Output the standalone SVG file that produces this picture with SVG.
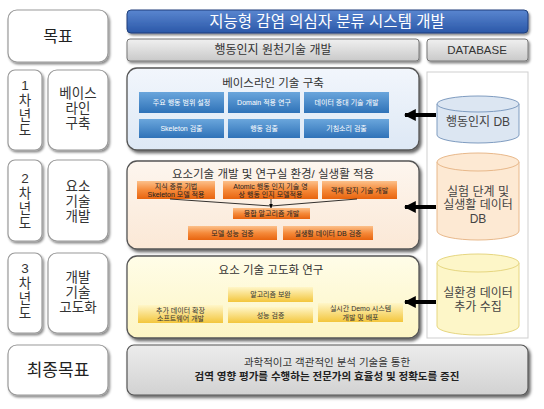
<svg xmlns="http://www.w3.org/2000/svg" width="544" height="409" viewBox="0 0 544 409">
<defs>
<style>
text{font-family:"Liberation Sans","Noto Sans CJK KR",sans-serif;text-anchor:middle;dominant-baseline:central}
.wb{fill:#fff;stroke:#9a9a9a;stroke-width:1.2}
.side{font-size:13.5px;fill:#333}
.btxt{font-size:7px;fill:#fff}
.otxt{font-size:7px;fill:#222}
.ytxt{font-size:7px;fill:#333}
.ptitle{font-size:11.5px;fill:#333}
.dbtxt{font-size:12px;fill:#444}
</style>
<filter id="sh" x="-10%" y="-10%" width="125%" height="130%">
<feDropShadow dx="1.5" dy="2" stdDeviation="1.2" flood-color="#000" flood-opacity="0.45"/>
</filter>
<filter id="sh2" x="-10%" y="-10%" width="125%" height="130%">
<feDropShadow dx="2" dy="2.5" stdDeviation="1.5" flood-color="#000" flood-opacity="0.6"/>
</filter>
<linearGradient id="gTitle" x1="0" y1="0" x2="0" y2="1"><stop offset="0" stop-color="#5a86d0"/><stop offset="1" stop-color="#2b58a8"/></linearGradient>
<linearGradient id="gGray" x1="0" y1="0" x2="0" y2="1"><stop offset="0" stop-color="#f0f0f0"/><stop offset="1" stop-color="#c9c9c9"/></linearGradient>
<linearGradient id="gBlueBtn" x1="0" y1="0" x2="0" y2="1"><stop offset="0" stop-color="#6aa6dc"/><stop offset="1" stop-color="#2f72b8"/></linearGradient>
<linearGradient id="gOrBtn" x1="0" y1="0" x2="0" y2="1"><stop offset="0" stop-color="#fcc08a"/><stop offset="0.5" stop-color="#f58a3a"/><stop offset="1" stop-color="#e8640f"/></linearGradient>
<linearGradient id="gYeBtn" x1="0" y1="0" x2="0" y2="1"><stop offset="0" stop-color="#fff6c8"/><stop offset="1" stop-color="#f3c63c"/></linearGradient>
<linearGradient id="gBluePanel" x1="0" y1="0" x2="0" y2="1"><stop offset="0" stop-color="#f2f6fc"/><stop offset="1" stop-color="#dde8f5"/></linearGradient>
<linearGradient id="gOrPanel" x1="0" y1="0" x2="0" y2="1"><stop offset="0" stop-color="#fdf6ef"/><stop offset="1" stop-color="#fbe8d6"/></linearGradient>
<linearGradient id="gYePanel" x1="0" y1="0" x2="0" y2="1"><stop offset="0" stop-color="#fffde8"/><stop offset="1" stop-color="#fdf5c4"/></linearGradient>
<linearGradient id="gFinal" x1="0" y1="0" x2="0" y2="1"><stop offset="0" stop-color="#ececec"/><stop offset="1" stop-color="#d2d2d2"/></linearGradient>
<marker id="bigArrow" viewBox="0 0 10 10" refX="9" refY="5" markerWidth="3" markerHeight="3.2" orient="auto" markerUnits="strokeWidth">
<path d="M0,0 L10,5 L0,10 z" fill="#000"/>
</marker>
<marker id="smArrow" viewBox="0 0 10 10" refX="9" refY="5" markerWidth="6" markerHeight="6" orient="auto">
<path d="M0,1 L10,5 L0,9 z" fill="#000"/>
</marker>
</defs>

<rect width="544" height="409" fill="#fff"/>

<!-- Left label boxes -->
<g id="goal">
<rect class="wb" x="8" y="10" width="100" height="52" rx="9" filter="url(#sh)"/>
<text x="58" y="36" font-size="16" fill="#222">목표</text>
</g>
<g id="year1">
<rect class="wb" x="8" y="70" width="34" height="80" rx="7" filter="url(#sh)"/>
<text class="side" x="25" y="85"><tspan x="25" y="85">1</tspan><tspan x="25" y="100">차</tspan><tspan x="25" y="115">년</tspan><tspan x="25" y="130">도</tspan></text>
</g>
<g id="label1">
<rect class="wb" x="48" y="70" width="60" height="80" rx="9" filter="url(#sh)"/>
<text class="side" x="78" y="93"><tspan x="78" y="93">베이스</tspan><tspan x="78" y="108">라인</tspan><tspan x="78" y="123">구축</tspan></text>
</g>
<g id="year2">
<rect class="wb" x="8" y="160" width="34" height="81" rx="7" filter="url(#sh)"/>
<text class="side" x="25" y="178"><tspan x="25" y="178">2</tspan><tspan x="25" y="193">차</tspan><tspan x="25" y="208">년</tspan><tspan x="25" y="223">도</tspan></text>
</g>
<g id="label2">
<rect class="wb" x="48" y="160" width="60" height="81" rx="9" filter="url(#sh)"/>
<text class="side" x="78" y="186"><tspan x="78" y="186">요소</tspan><tspan x="78" y="201">기술</tspan><tspan x="78" y="216">개발</tspan></text>
</g>
<g id="year3">
<rect class="wb" x="8" y="253" width="34" height="80" rx="7" filter="url(#sh)"/>
<text class="side" x="25" y="268"><tspan x="25" y="268">3</tspan><tspan x="25" y="283">차</tspan><tspan x="25" y="298">년</tspan><tspan x="25" y="313">도</tspan></text>
</g>
<g id="label3">
<rect class="wb" x="48" y="253" width="60" height="80" rx="9" filter="url(#sh)"/>
<text class="side" x="78" y="277"><tspan x="78" y="277">개발</tspan><tspan x="78" y="292">기술</tspan><tspan x="78" y="307">고도화</tspan></text>
</g>
<g id="finalGoal">
<rect class="wb" x="8" y="345" width="100" height="50" rx="9" filter="url(#sh)"/>
<text x="58" y="370" font-size="17" fill="#222">최종목표</text>
</g>

<!-- Header bars -->
<g id="title">
<rect x="127" y="10" width="401" height="23" rx="4" fill="url(#gTitle)" stroke="#1f3f7a" stroke-width="1" filter="url(#sh)"/>
<text x="327" y="21.5" font-size="15.5" fill="#fff">지능형 감염 의심자 분류 시스템 개발</text>
</g>
<g id="subtitle">
<rect x="127" y="39" width="292" height="22" rx="3" fill="url(#gGray)" stroke="#777" stroke-width="1" filter="url(#sh)"/>
<text x="273" y="50" font-size="12" fill="#333">행동인지 원천기술 개발</text>
</g>
<g id="database-header">
<rect x="427" y="39" width="101" height="22" rx="3" fill="url(#gGray)" stroke="#777" stroke-width="1" filter="url(#sh)"/>
<text x="477" y="50" font-size="11.5" fill="#333">DATABASE</text>
</g>

<!-- DB column panel -->
<g id="db-panel">
<rect x="427" y="72" width="101" height="266" fill="#fff" stroke="#cfcfcf" stroke-width="1"/>
</g>

<!-- Panel 1: baseline -->
<g id="panel1">
<rect x="127" y="68" width="292" height="82" rx="10" fill="url(#gBluePanel)" stroke="#555" stroke-width="1.3" filter="url(#sh2)"/>
<text class="ptitle" x="273" y="83">베이스라인 기술 구축</text>
</g>
<g id="b1"><rect x="139" y="92" width="85" height="21" fill="url(#gBlueBtn)"/><text class="btxt" x="181.5" y="102.5">주요 행동 범위 설정</text></g>
<g id="b2"><rect x="228" y="92" width="72" height="21" fill="url(#gBlueBtn)"/><text class="btxt" x="264" y="102.5">Domain 적용 연구</text></g>
<g id="b3"><rect x="304" y="92" width="85" height="21" fill="url(#gBlueBtn)"/><text class="btxt" x="346.5" y="102.5">데이터 증대 기술 개발</text></g>
<g id="b4"><rect x="139" y="119" width="85" height="19" fill="url(#gBlueBtn)"/><text class="btxt" x="181.5" y="128.5">Skeleton 검출</text></g>
<g id="b5"><rect x="228" y="119" width="72" height="19" fill="url(#gBlueBtn)"/><text class="btxt" x="264" y="128.5">행동 검출</text></g>
<g id="b6"><rect x="304" y="119" width="85" height="19" fill="url(#gBlueBtn)"/><text class="btxt" x="346.5" y="128.5">기침소리 검출</text></g>

<!-- Panel 2 -->
<g id="panel2">
<rect x="127" y="161" width="292" height="88" rx="10" fill="url(#gOrPanel)" stroke="#555" stroke-width="1.3" filter="url(#sh2)"/>
<text class="ptitle" x="273" y="174">요소기술 개발 및 연구실 환경/ 실생활 적용</text>
</g>
<g id="o1"><rect x="137" y="181" width="78" height="18" fill="url(#gOrBtn)"/><text class="otxt" x="176" y="186"><tspan x="176" y="186">지식 증류 기법</tspan><tspan x="176" y="194.2">Skeleton 모델 적용</tspan></text></g>
<g id="o2"><rect x="223" y="181" width="95" height="18" fill="url(#gOrBtn)"/><text class="otxt" x="270.5" y="186"><tspan x="270.5" y="186">Atomic 행동 인지 기술 영</tspan><tspan x="270.5" y="194.2">상 행동 인지 모델적용</tspan></text></g>
<g id="o3"><rect x="322" y="181" width="75" height="18" fill="url(#gOrBtn)"/><text class="otxt" x="359.5" y="190">객체 탐지 기술 개발</text></g>
<g id="o4"><rect x="233" y="208" width="77" height="11" fill="url(#gOrBtn)"/><text class="otxt" x="271.5" y="213.5">융합 알고리즘 개발</text></g>
<g id="o5"><rect x="188" y="226" width="89" height="14" fill="url(#gOrBtn)"/><text class="otxt" x="232.5" y="233">모델 성능 검증</text></g>
<g id="o6"><rect x="283" y="226" width="90" height="14" fill="url(#gOrBtn)"/><text class="otxt" x="328" y="233">실생활 데이터 DB 검증</text></g>

<!-- Panel 3 -->
<g id="panel3">
<rect x="127" y="256" width="292" height="82" rx="10" fill="url(#gYePanel)" stroke="#555" stroke-width="1.3" filter="url(#sh2)"/>
<text class="ptitle" x="271" y="270">요소 기술 고도화 연구</text>
</g>
<g id="y1"><rect x="228" y="287" width="85" height="15" fill="url(#gYeBtn)"/><text class="ytxt" x="270.5" y="294.5">알고리즘 보완</text></g>
<g id="y2"><rect x="228" y="307" width="85" height="16" fill="url(#gYeBtn)"/><text class="ytxt" x="270.5" y="315">성능 검증</text></g>
<g id="y3"><rect x="138" y="305" width="85" height="18" fill="url(#gYeBtn)"/><text class="ytxt" x="180.5" y="309.8"><tspan x="180.5" y="309.8">추가 데이터 확장</tspan><tspan x="180.5" y="318.2">소프트웨어 개발</tspan></text></g>
<g id="y4"><rect x="318" y="303" width="85" height="19" fill="url(#gYeBtn)"/><text class="ytxt" x="360.5" y="308.3"><tspan x="360.5" y="308.3">실시간 Demo 시스템</tspan><tspan x="360.5" y="316.7">개발 및 배포</tspan></text></g>

<!-- Databases -->
<g id="db1">
<path d="M437,104 L437,135 A41,8 0 0 0 519,135 L519,104" fill="#dce6f2" stroke="#7f9cc0" stroke-width="1"/>
<ellipse cx="478" cy="104" rx="41" ry="8" fill="#dce6f2" stroke="#7f9cc0" stroke-width="1"/>
<text class="dbtxt" x="478" y="122">행동인지 DB</text>
</g>
<g id="db2">
<path d="M437,162 L437,231 A41,9 0 0 0 519,231 L519,162" fill="#fde9d3" stroke="#e8b88a" stroke-width="1"/>
<ellipse cx="478" cy="162" rx="41" ry="9" fill="#fde9d3" stroke="#e8b88a" stroke-width="1"/>
<text class="dbtxt" x="478" y="191.5"><tspan x="478" y="191.5">실험 단계 및</tspan><tspan x="478" y="205">실생활 데이터</tspan><tspan x="478" y="218.5">DB</tspan></text>
</g>
<g id="db3">
<path d="M437,263 L437,326 A41,9 0 0 0 519,326 L519,263" fill="#fdf6c8" stroke="#e6d680" stroke-width="1"/>
<ellipse cx="478" cy="263" rx="41" ry="9" fill="#fdf6c8" stroke="#e6d680" stroke-width="1"/>
<text class="dbtxt" x="478" y="293"><tspan x="478" y="293">실환경 데이터</tspan><tspan x="478" y="306.5">추가 수집</tspan></text>
</g>

<!-- Final goal panel -->
<g id="final-panel">
<rect x="127" y="345" width="401" height="50" rx="7" fill="url(#gFinal)" stroke="#555" stroke-width="1.2" filter="url(#sh2)"/>
<text x="327" y="362" font-size="10.5" fill="#333"><tspan x="327" y="362">과학적이고 객관적인 분석 기술을 통한</tspan><tspan x="327" y="376" font-weight="bold" fill="#222">검역 영향 평가를 수행하는 전문가의 효율성 및 정확도를 증진</tspan></text>
</g>

<!-- Connectors -->
<g id="connectors" fill="none" stroke="#000">
<line x1="436" y1="115" x2="405" y2="115" stroke-width="4" marker-end="url(#bigArrow)"/>
<line x1="436" y1="207" x2="405" y2="207" stroke-width="4" marker-end="url(#bigArrow)"/>
<line x1="436" y1="302" x2="405" y2="302" stroke-width="4" marker-end="url(#bigArrow)"/>
<line x1="170" y1="199" x2="271" y2="206" stroke-width="0.8"/>
<line x1="357" y1="199" x2="271" y2="206" stroke-width="0.8"/>
<line x1="271" y1="199" x2="271" y2="208" stroke-width="0.8" marker-end="url(#smArrow)"/>
</g>
</svg>
